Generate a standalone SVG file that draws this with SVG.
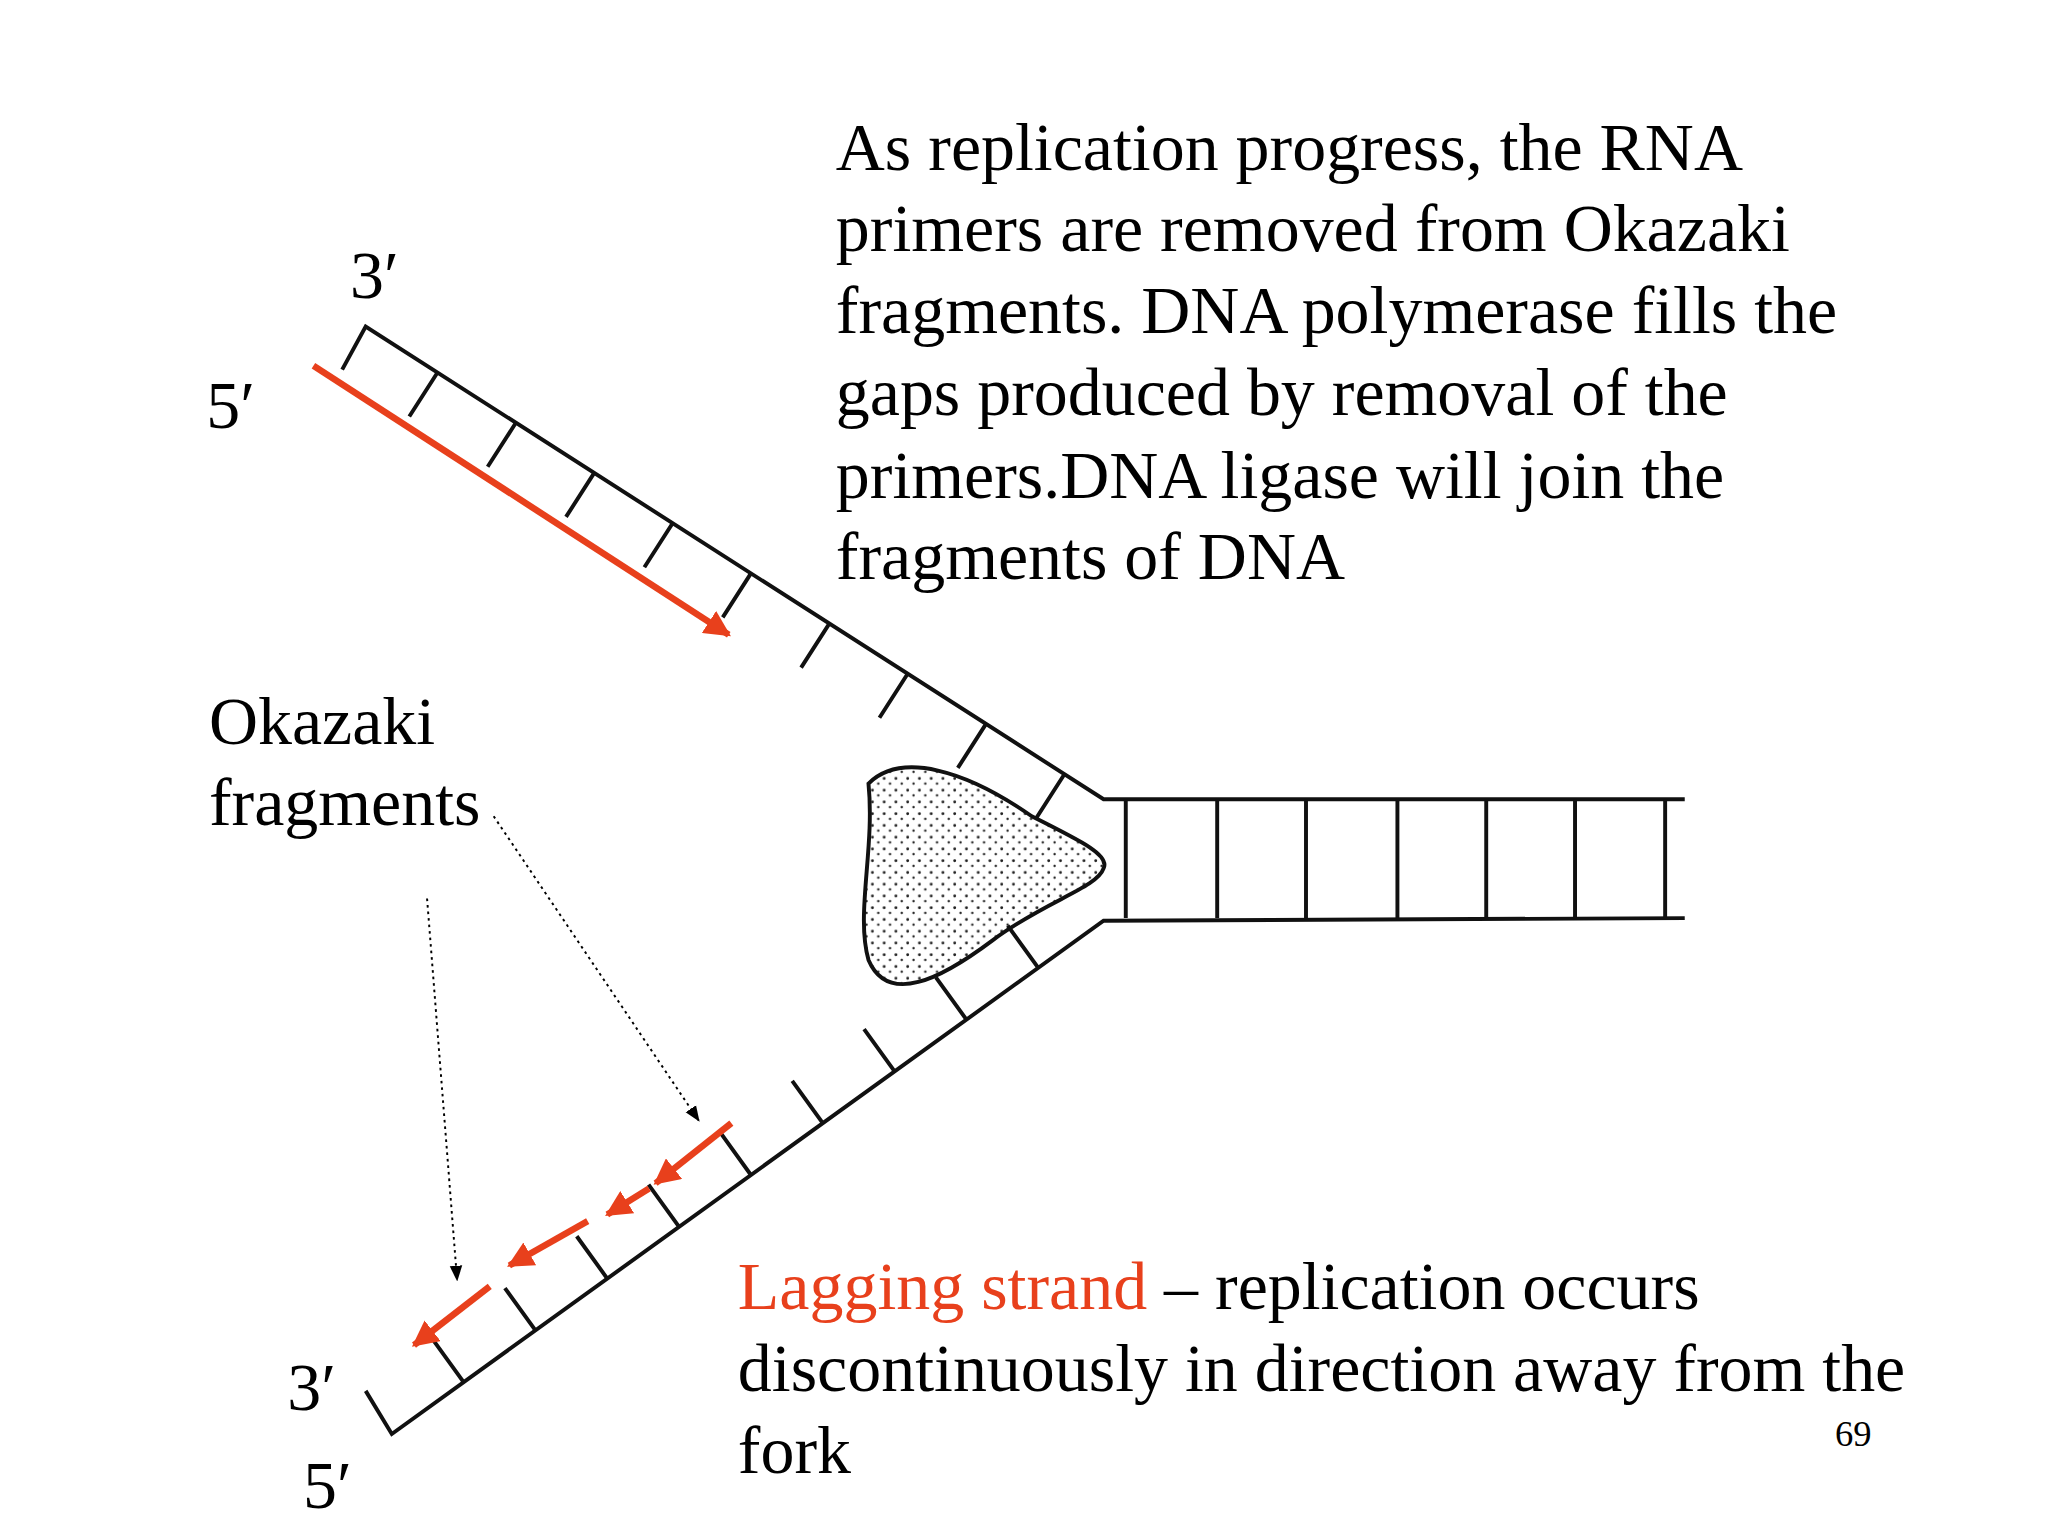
<svg xmlns="http://www.w3.org/2000/svg" width="2048" height="1536" viewBox="0 0 2048 1536">
<style>
.s{stroke:#111;stroke-width:3;fill:none}
.t{font-family:"Liberation Serif",serif;font-size:52px;fill:#000}
.r{stroke:#e8401c;stroke-width:5;fill:none;marker-end:url(#rh)}
.d{stroke:#000;stroke-width:1.5;stroke-dasharray:2 3;fill:none;marker-end:url(#bh)}
</style>
<defs>
<marker id="rh" viewBox="0 0 10 10" refX="9" refY="5" markerWidth="4" markerHeight="4" orient="auto" markerUnits="strokeWidth"><path d="M0,0L10,5L0,10z" fill="#e8401c"/></marker>
<marker id="bh" viewBox="0 0 10 10" refX="9" refY="5" markerWidth="8" markerHeight="8" orient="auto" markerUnits="strokeWidth"><path d="M0,1L10,5L0,9z" fill="#000"/></marker>
<pattern id="dots" width="9" height="9" patternUnits="userSpaceOnUse"><circle cx="2" cy="2" r="1.1" fill="#222"/><circle cx="6.5" cy="6" r="0.9" fill="#222"/></pattern>
</defs>
<rect width="2048" height="1536" fill="#fff"/>
<g transform="scale(1.306)">
<g id="fork">
<path class="s" d="M262,283L280,250L845,612L1290,612M280,1065L300,1098L845,705L1290,703"/>
<path class="s" d="M862,612V703M932,612V703M1000,612V703M1070,612V703M1138,612V703M1206,612V703M1275,612V703"/>
<path class="s" d="M335,285.2L313.4,318.9M395,323.7L373.4,357.4M455,362.1L433.4,395.8M515,400.6L493.4,434.3M575,439L553.4,472.7M635,477.5L613.4,511.2M695,515.9L673.4,549.6M755,554.3L733.4,588M815,592.8L793.4,626.5"/>
<path class="s" d="M355,1058.3L331.6,1025.9M410,1018.7L386.6,986.3M465,979L441.6,946.6M520,939.4L496.6,907M575,899.7L551.6,867.3M630,860L606.6,827.6M685,820.4L661.6,788M740,780.7L716.6,748.3M795,741.1L771.6,708.7"/>
</g>
<g id="enzyme">
<path d="M665,600C690,575 740,590 790,625C830,645 850,655 845,665C840,680 800,690 760,720C720,750 680,770 665,735C655,700 670,650 665,600Z" fill="url(#dots)" stroke="#111" stroke-width="3"/>
</g>
<g id="connectors">
<path class="r" d="M240,280L558,486"/>
<path class="r" d="M560,860L502,906"/>
<path class="r" d="M497,910L465,930"/>
<path class="r" d="M450,935L390,969"/>
<path class="r" d="M375,985L317,1030"/>
<path class="d" d="M378,625L535,858"/>
<path class="d" d="M327,688L350,980"/>
</g>
<g id="labels">
<text class="t" x="640" y="130">As replication progress, the RNA</text>
<text class="t" x="640" y="192">primers are removed from Okazaki</text>
<text class="t" x="640" y="255">fragments. DNA polymerase fills the</text>
<text class="t" x="640" y="318">gaps produced by removal of the</text>
<text class="t" x="640" y="381">primers.DNA ligase will join the</text>
<text class="t" x="640" y="443">fragments of DNA</text>
<text class="t" x="268" y="228">3′</text>
<text class="t" x="158" y="328">5′</text>
<text class="t" x="160" y="570">Okazaki</text>
<text class="t" x="160" y="632">fragments</text>
<text class="t" x="220" y="1080">3′</text>
<text class="t" x="232" y="1155">5′</text>
<text class="t" x="565" y="1002"><tspan fill="#e8401c">Lagging strand</tspan> – replication occurs</text>
<text class="t" x="565" y="1065">discontinuously in direction away from the</text>
<text class="t" x="565" y="1128">fork</text>
<text class="t" x="1405" y="1107" style="font-size:28px">69</text>
</g>
</g>
</svg>
